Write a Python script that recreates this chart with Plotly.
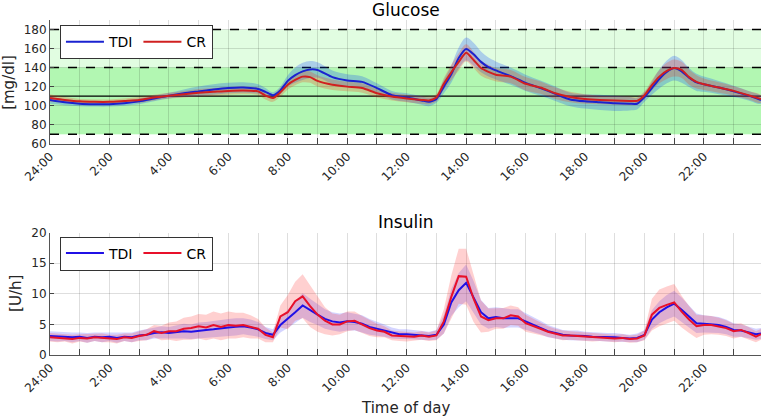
import plotly.graph_objects as go
from plotly.subplots import make_subplots

# ---------------- data ----------------
# Glucose (mg/dl): time grid in hours
glu_t = [0, 0.5, 1, 1.5, 2, 2.5, 3, 3.5, 4, 4.5, 5, 5.5, 6, 6.5, 7, 7.25, 7.5, 7.75,
         8, 8.25, 8.5, 8.75, 9, 9.5, 10, 10.5, 11, 11.5, 12, 12.5, 12.75, 13, 13.25,
         13.5, 13.75, 14, 14.25, 14.5, 14.75, 15, 15.5, 16, 16.5, 17, 17.5, 18, 18.5,
         19, 19.5, 19.75, 20, 20.25, 20.5, 20.75, 21, 21.25, 21.5, 21.75, 22, 22.5, 23,
         23.5, 23.92]
glu_tdi = [106, 103.5, 102, 101.5, 101.5, 102.5, 104.5, 107.5, 110.5, 113, 115, 117, 118.5,
           119, 117.5, 114.5, 111, 116, 126, 132, 136, 138, 137.5, 130, 126.5, 125, 118.5,
           111, 108.5, 105.5, 104, 107, 120, 133, 150, 159.5, 154, 146, 140.5, 137, 131,
           124, 118.5, 112.5, 106.5, 104.5, 103.5, 102.5, 102, 102, 109, 118.5, 128, 135.5,
           139.5, 136, 129.5, 124.5, 122.5, 119, 115, 110.5, 106]
glu_cr = [108, 106, 104.5, 104, 104, 105, 106, 108.5, 110.5, 112, 113.5, 114.5, 115.5, 116,
          115, 110.5, 108, 114, 122, 127, 130.5, 130, 126, 122, 120, 118.5, 113, 109.5,
          107.5, 106, 105.5, 108.5, 123, 135, 146, 155.5, 148, 139.5, 135.5, 132.5, 130.5,
          123, 119, 113, 109, 107, 106, 105.5, 105, 105, 111, 121.5, 130.5, 136.5, 139.5,
          137.5, 130, 125, 122.5, 119, 115.5, 111, 107]
glu_tdi_hw = [4, 3, 2.5, 2.5, 2.5, 2.5, 3, 3, 3, 4, 5, 5.5, 5.5, 5.5, 5, 4, 3, 4, 6, 8, 9, 9,
              8, 7, 6.5, 6, 5, 4.5, 4.5, 4.5, 4.5, 4, 7, 9, 11, 12, 12, 11, 10, 9.5, 9, 8.5,
              8, 7.5, 7, 7.5, 8, 8, 7, 6, 5, 7, 10, 12, 13, 12, 10, 9, 8, 7, 6, 5, 4]
glu_cr_hw = [4, 3, 2.5, 2.5, 2.5, 2.5, 3, 3, 3, 3.5, 4, 4, 4, 4, 4, 4, 4, 4.5, 5, 5.5, 6, 6,
             6, 5.5, 5, 5, 4.5, 4, 4, 4, 4, 4, 6, 8, 9, 9, 8.5, 8, 7.5, 7, 7, 7, 6.5, 6, 5.5,
             5, 4.5, 4.5, 4.5, 4, 4, 5.5, 7, 8.5, 9, 8.5, 8, 7, 6, 5.5, 5, 4.5, 4]

# Insulin (U/h): 15-minute grid
ins_t = [i * 0.25 for i in range(96)] + [23.92]
ins_tdi = [3.1, 3.0, 3.0, 2.9, 3.0, 2.8, 3.0, 2.9, 3.0, 2.8, 3.0, 2.9,
           3.2, 3.3, 3.6, 3.7,
           3.6, 3.8, 3.9, 3.8, 4.0, 4.1, 4.2, 4.4, 4.5, 4.6, 4.7, 4.5,
           4.2, 3.6, 3.3, 4.9,
           5.9, 7.0, 8.1, 7.3,
           6.6, 5.9, 5.5, 5.3,
           5.5, 5.4, 5.1, 4.6,
           4.3, 4.0, 3.6, 3.4,
           3.4, 3.3, 3.2, 3.1,
           3.3, 5.0, 8.6, 10.6,
           11.8, 9.5, 7.0, 6.0,
           6.2, 6.0, 6.0, 6.0,
           5.5, 5.0, 4.5, 3.9,
           3.6, 3.3, 3.2, 3.2,
           3.1, 3.0, 3.0, 2.9,
           2.9, 2.8, 2.7, 2.8,
           3.3, 5.8, 7.0, 7.8,
           8.4, 7.4, 6.3, 5.2,
           5.1, 5.0, 4.9, 4.6,
           4.1, 4.0, 3.7, 3.4, 3.5]
ins_cr = [2.9, 2.8, 2.8, 2.6, 2.8, 2.7, 2.9, 2.8, 2.7, 2.6, 2.9, 2.8,
          3.1, 3.3, 3.9, 3.6,
          3.9, 3.9, 4.3, 4.4, 4.7, 4.5, 4.9, 4.6, 4.9, 4.8, 4.9, 4.6,
          4.3, 3.3, 2.9, 6.3,
          7.0, 8.8, 9.6, 8.0,
          6.6, 5.6, 5.0, 5.0,
          5.5, 5.6, 5.0, 4.4,
          4.0, 3.8, 3.2, 3.1,
          3.0, 3.0, 3.2, 3.0,
          3.2, 5.5, 9.5, 12.9,
          12.8, 9.2, 6.3, 5.7,
          6.0, 6.0, 6.5, 6.3,
          5.2, 4.8, 4.3, 3.8,
          3.5, 3.2, 3.2, 3.1,
          3.0, 2.9, 2.9, 2.8,
          2.7, 2.8, 2.6, 2.7,
          3.2, 6.6, 7.7, 8.2,
          8.6, 7.1, 5.8, 4.7,
          4.9, 4.9, 4.7, 4.4,
          3.9, 4.1, 3.6, 3.0, 3.4]
ins_tdi_hw = [0.8, 0.8, 0.7, 0.8, 0.7, 0.8, 0.7, 0.8, 0.7, 0.8, 0.7, 0.8,
              0.8, 0.9, 0.9, 1.0,
              1.0, 1.1, 1.2, 1.2, 1.3, 1.3, 1.4, 1.4, 1.4, 1.4, 1.3, 1.3,
              1.2, 1.0, 0.9, 1.2,
              1.5, 1.8, 2.0, 1.9,
              1.7, 1.6, 1.5, 1.5,
              1.5, 1.4, 1.4, 1.3,
              1.2, 1.0, 0.9, 0.8,
              0.8, 0.8, 0.7, 0.7,
              0.8, 1.5, 2.2, 2.8,
              3.0, 2.6, 2.0, 1.7,
              1.6, 1.6, 1.5, 1.5,
              1.4, 1.2, 1.1, 1.0,
              0.9, 0.8, 0.8, 0.8,
              0.7, 0.7, 0.7, 0.7,
              0.7, 0.7, 0.6, 0.7,
              0.8, 1.5, 1.8, 2.0,
              2.1, 2.0, 1.8, 1.6,
              1.4, 1.3, 1.3, 1.2,
              1.1, 1.0, 0.9, 0.9, 0.9]
ins_cr_hw = [0.7, 0.7, 0.6, 0.7, 0.6, 0.7, 0.6, 0.7, 0.6, 0.7, 0.6, 0.7,
             0.8, 0.9, 1.0, 1.2,
             1.4, 1.6, 1.8, 1.9, 2.0, 2.1, 2.2, 2.2, 2.2, 2.1, 2.0, 1.9,
             1.6, 1.2, 0.8, 1.8,
             2.8, 3.2, 3.6, 3.4,
             2.8, 2.2, 1.8, 1.6,
             1.6, 1.5, 1.4, 1.3,
             1.1, 0.9, 0.8, 0.8,
             0.8, 0.7, 0.7, 0.7,
             0.8, 2.0, 3.5, 4.5,
             4.6, 3.8, 2.6, 1.9,
             1.7, 1.7, 1.6, 1.5,
             1.4, 1.2, 1.0, 0.9,
             0.8, 0.8, 0.7, 0.7,
             0.7, 0.7, 0.6, 0.6,
             0.6, 0.6, 0.6, 0.6,
             0.8, 2.6, 3.0, 3.0,
             3.0, 2.6, 2.2, 1.9,
             1.6, 1.5, 1.4, 1.3,
             1.2, 1.1, 1.0, 0.9, 0.9]

hour_ticks = list(range(24))
hour_labels = [("24:00" if h == 0 else f"{h}:00") if h % 2 == 0 else "" for h in hour_ticks]

glu_target_lo, glu_target_hi, glu_tight_hi, glu_setpoint = 70, 180, 140, 110

for arr in (glu_tdi, glu_cr, glu_tdi_hw, glu_cr_hw):
    assert len(arr) == len(glu_t), (len(arr), len(glu_t))
for arr in (ins_tdi, ins_cr, ins_tdi_hw, ins_cr_hw):
    assert len(arr) == len(ins_t), (len(arr), len(ins_t))

# ---------------- figure ----------------
FONT = "DejaVu Sans"
TXT = "#262626"
BLUE_T, RED_T = "#1a22d0", "#d02020"
BLUE_B, RED_B = "#2010e6", "#e8102a"

fig = make_subplots(rows=2, cols=1, vertical_spacing=0.0)


def band(x, m, hw, color, row, shape="linear"):
    up = [a + b for a, b in zip(m, hw)]
    lo = [a - b for a, b in zip(m, hw)]
    fig.add_trace(go.Scatter(x=list(x) + list(x)[::-1], y=up + lo[::-1], fill="toself",
                             fillcolor=color, line=dict(width=0, shape=shape),
                             mode="lines", hoverinfo="skip", showlegend=False),
                  row=row, col=1)


band(glu_t, glu_tdi, glu_tdi_hw, "rgba(0,60,255,0.24)", 1, "spline")
band(glu_t, glu_cr, glu_cr_hw, "rgba(255,30,0,0.22)", 1, "spline")
fig.add_trace(go.Scatter(x=glu_t, y=glu_tdi, mode="lines", name="TDI",
                         line=dict(color=BLUE_T, width=2, shape="spline", smoothing=0.6),
                         legend="legend"), row=1, col=1)
fig.add_trace(go.Scatter(x=glu_t, y=glu_cr, mode="lines", name="CR",
                         line=dict(color=RED_T, width=2, shape="spline", smoothing=0.6),
                         legend="legend"), row=1, col=1)

band(ins_t, ins_tdi, ins_tdi_hw, "rgba(60,60,255,0.22)", 2)
band(ins_t, ins_cr, ins_cr_hw, "rgba(255,40,40,0.22)", 2)
fig.add_trace(go.Scatter(x=ins_t, y=ins_tdi, mode="lines", name="TDI",
                         line=dict(color=BLUE_B, width=2), legend="legend2"), row=2, col=1)
fig.add_trace(go.Scatter(x=ins_t, y=ins_cr, mode="lines", name="CR",
                         line=dict(color=RED_B, width=2), legend="legend2"), row=2, col=1)

# target zones (top)
shapes = [
    dict(type="rect", xref="x domain", x0=0, x1=1, yref="y", y0=glu_target_lo,
         y1=glu_target_hi, fillcolor="#e1fde1", line=dict(width=0), layer="below"),
    dict(type="rect", xref="x domain", x0=0, x1=1, yref="y", y0=glu_target_lo,
         y1=glu_tight_hi, fillcolor="#b2f7b2", line=dict(width=0), layer="below"),
]
for yv in (glu_target_lo, glu_tight_hi, glu_target_hi):
    shapes.append(dict(type="line", xref="x domain", x0=0, x1=1, yref="y", y0=yv, y1=yv,
                       line=dict(color="black", width=1.5, dash="dash"), layer="below"))
shapes.append(dict(type="line", xref="x domain", x0=0, x1=1, yref="y", y0=glu_setpoint,
                   y1=glu_setpoint, line=dict(color="black", width=1.2), layer="below"))

grid = "rgba(0,0,0,0.13)"
xcommon = dict(range=[0, 23.92], tickvals=hour_ticks, ticktext=hour_labels, tickangle=-45,
               showgrid=True, gridcolor=grid, gridwidth=1, ticks="inside", ticklen=6,
               tickcolor="#444", showline=True, linecolor="#555", linewidth=1,
               zeroline=False, automargin=False,
               tickfont=dict(family=FONT, size=12, color=TXT))
fig.update_xaxes(**xcommon, row=1, col=1)
fig.update_xaxes(**xcommon, row=2, col=1)
ycommon = dict(showgrid=True, gridcolor=grid, gridwidth=1, ticks="inside", ticklen=4,
               tickcolor="#444", showline=True, linecolor="#555", linewidth=1,
               zeroline=False, automargin=False,
               tickfont=dict(family=FONT, size=12, color=TXT))
fig.update_yaxes(**ycommon, range=[60, 190], tickvals=[60, 80, 100, 120, 140, 160, 180],
                 row=1, col=1)
fig.update_yaxes(**ycommon, range=[0, 20], tickvals=[0, 5, 10, 15, 20], row=2, col=1)

fig.update_layout(
    width=763, height=418,
    margin=dict(l=50, r=2, t=20, b=63, autoexpand=False),
    paper_bgcolor="white", plot_bgcolor="white",
    font=dict(family=FONT, color=TXT),
    xaxis=dict(domain=[0, 1]), yaxis=dict(domain=[0.6307, 1.0]),
    xaxis2=dict(domain=[0, 1]), yaxis2=dict(domain=[0.0, 0.365]),
    shapes=shapes,
    legend=dict(orientation="h", x=0.014, y=0.985, xanchor="left", yanchor="top",
                bgcolor="white", bordercolor="#333", borderwidth=1,
                font=dict(family=FONT, size=14, color="black"), itemwidth=38,
                tracegroupgap=0),
    legend2=dict(orientation="h", x=0.014, y=0.3537, xanchor="left", yanchor="top",
                 bgcolor="white", bordercolor="#333", borderwidth=1,
                 font=dict(family=FONT, size=14, color="black"), itemwidth=38,
                 tracegroupgap=0),
    annotations=[
        dict(text="Glucose", x=0.5, y=1.0284, xref="paper", yref="paper", showarrow=False,
             xanchor="center", yanchor="middle", font=dict(family=FONT, size=17, color="black")),
        dict(text="Insulin", x=0.5, y=0.397, xref="paper", yref="paper", showarrow=False,
             xanchor="center", yanchor="middle", font=dict(family=FONT, size=17, color="black")),
        dict(text="Time of day", x=0.5, y=-0.1597, xref="paper", yref="paper", showarrow=False,
             xanchor="center", yanchor="middle", font=dict(family=FONT, size=15, color=TXT)),
        dict(text="[mg/dl]", x=-0.0577, y=0.8153, xref="paper", yref="paper", showarrow=False,
             textangle=-90, xanchor="center", yanchor="middle",
             font=dict(family=FONT, size=15, color=TXT)),
        dict(text="[U/h]", x=-0.0478, y=0.1825, xref="paper", yref="paper", showarrow=False,
             textangle=-90, xanchor="center", yanchor="middle",
             font=dict(family=FONT, size=15, color=TXT)),
    ],
)

fig.write_html("out.html", config={"displayModeBar": False},
               post_script="document.body.style.margin='0';document.body.style.overflow='hidden';")
